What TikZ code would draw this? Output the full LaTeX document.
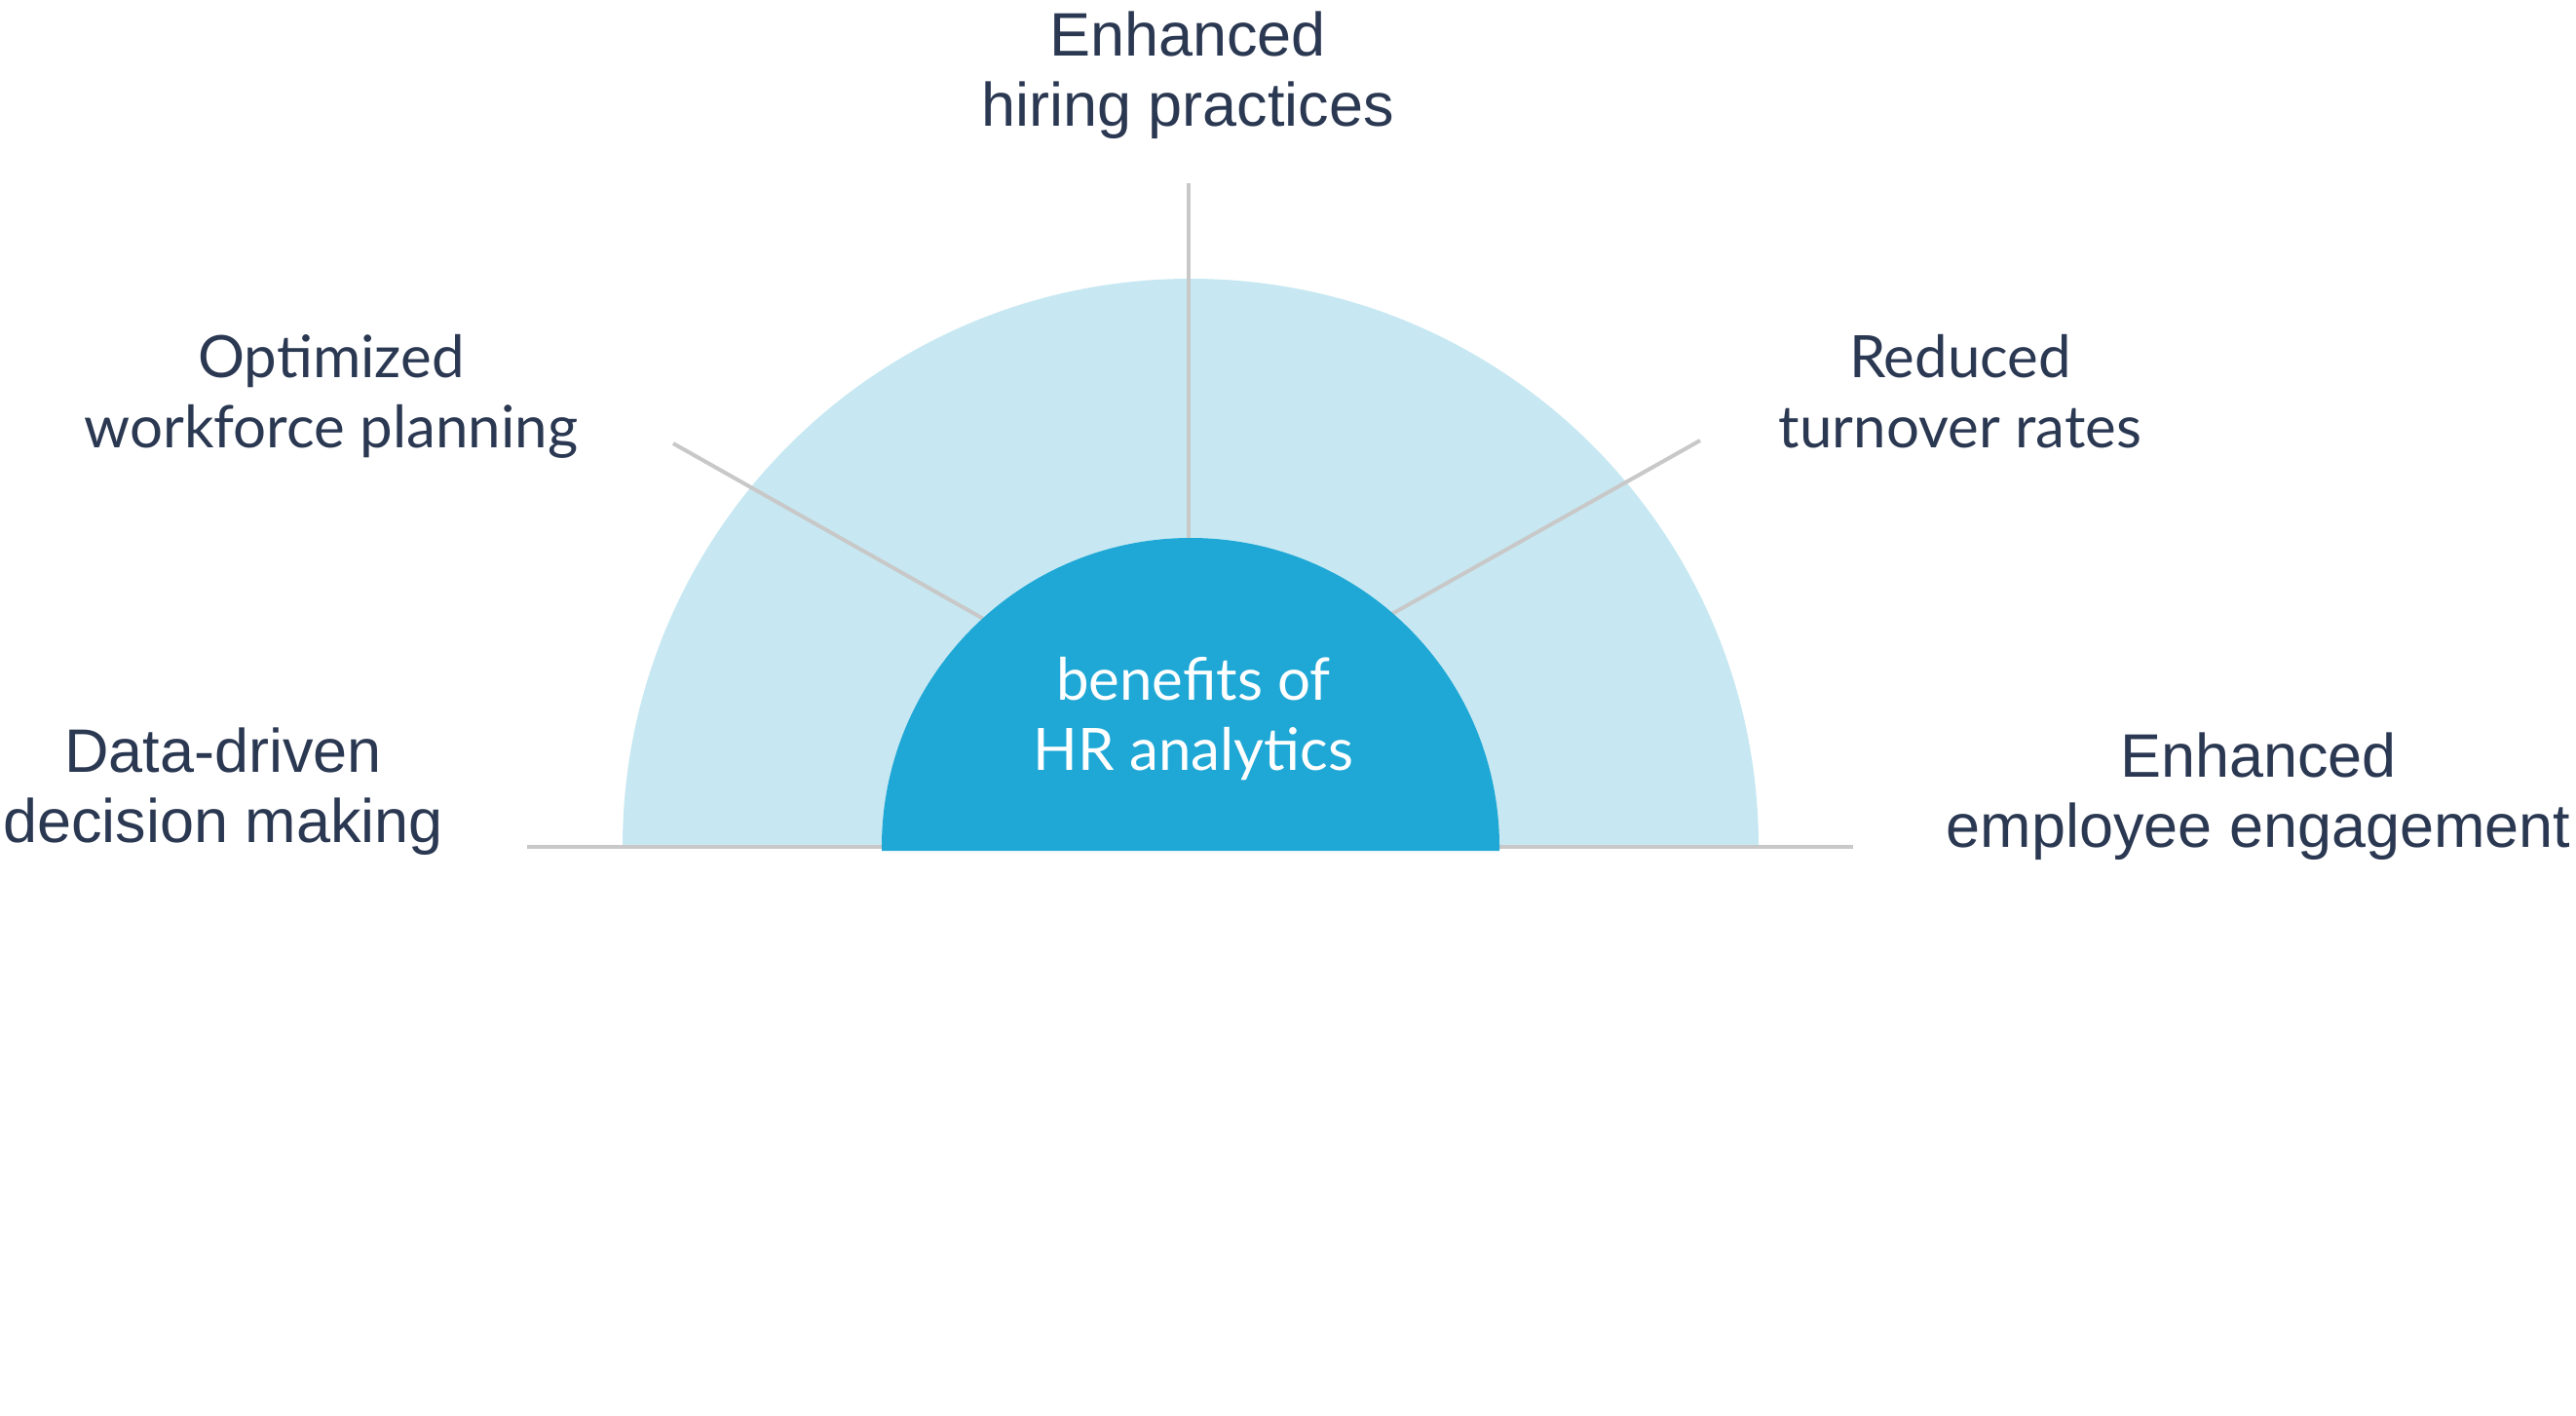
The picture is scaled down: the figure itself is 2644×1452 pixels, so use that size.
\documentclass[tikz,border=0pt]{standalone}
\usepackage{fontspec}
\setmainfont{Lato}
\newfontfamily\altsans{Liberation Sans}
\definecolor{navy}{HTML}{2B3852}
\definecolor{paleblue}{HTML}{C7E8F2}
\definecolor{coreblue}{HTML}{1FA8D6}
\definecolor{linegray}{HTML}{C8C8C8}
\begin{document}
\begin{tikzpicture}[x=1pt,y=1pt,
  lbl/.style={text=navy, align=center, font=\fontsize{60}{72}\selectfont, inner sep=0pt, anchor=base},
  lblalt/.style={text=navy, align=center, font=\altsans\fontsize{63}{72}\selectfont, inner sep=0pt, anchor=base},
  corelbl/.style={text=white, align=center, font=\fontsize{60}{72}\selectfont, inner sep=0pt, anchor=base},
  conn/.style={draw=linegray, line width=4pt}]
\useasboundingbox (0,0) rectangle (2644,-1452);
\fill[white] (0,0) rectangle (2644,-1452);
\coordinate (c) at (1222,-869);
% outer semicircle
\fill[paleblue] (639,-869) arc[start angle=180,end angle=0,radius=583pt] -- cycle;
% connector end points
\coordinate (vtop) at (1220,-188);
\coordinate (vbot) at (1220,-570);
\coordinate (ltop) at (691,-455);
\coordinate (lbot) at (1020,-641);
\coordinate (rtop) at (1745,-452);
\coordinate (rbot) at (1418,-636);
\coordinate (bl) at (541,-869);
\coordinate (br) at (1902,-869);
\draw[conn] (bl) -- (br);
\draw[conn] (vtop) -- (vbot);
\draw[conn] (ltop) -- (lbot);
\draw[conn] (rtop) -- (rbot);
% inner semicircle
\fill[coreblue] (905,-869) arc[start angle=180,end angle=0,radius=317pt] -- (1539,-873) -- (905,-873) -- cycle;
% labels (base anchor = baseline of last line)
\node[corelbl] (core) at (1225,-790) {benefits of\\HR analytics};
\node[lblalt] (hire) at (1219,-129) {Enhanced\\hiring practices};
\node[lbl] (plan) at (340,-459) {Optimized\\workforce planning};
\node[lblalt] (data) at (229,-864) {Data-driven\\decision making};
\node[lbl] (turn) at (2012,-459) {Reduced\\turnover rates};
\node[lblalt] (engage) at (2318,-869) {Enhanced\\employee engagement};
\end{tikzpicture}
\end{document}
